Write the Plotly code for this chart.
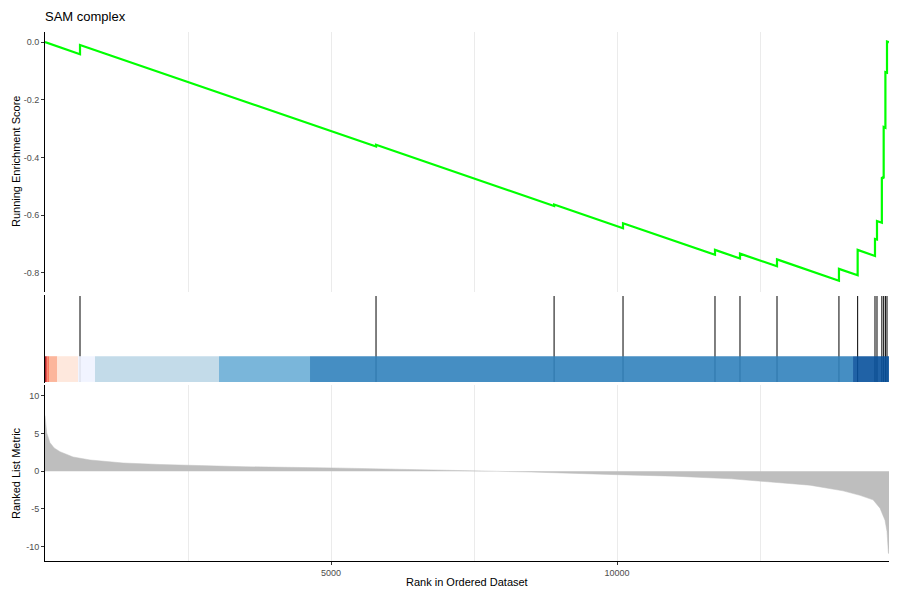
import plotly.graph_objects as go

# ---------------- data ----------------
N_GENES = 14755
title_text = "SAM complex"

hit_ranks = [612, 5787, 8900, 10105, 11713, 12150, 12797, 13880, 14207,
             14510, 14545, 14630, 14662, 14692, 14720]
es_before = [-0.042, -0.362, -0.568, -0.645, -0.737, -0.750, -0.777, -0.827,
             -0.808, -0.741, -0.684, -0.626, -0.472, -0.297, -0.106]
es_after = [-0.010, -0.356, -0.563, -0.628, -0.720, -0.733, -0.753, -0.786,
            -0.720, -0.682, -0.620, -0.468, -0.294, -0.104, 0.002]

metric_ranks = [0, 10, 30, 87, 160, 262, 490, 787, 1364, 2010, 2500, 3500,
                5000, 6500, 7500, 8500, 10000, 11000, 12000, 12500, 13374,
                13951, 14248, 14476, 14598, 14685, 14720, 14745, 14755]
metric_values = [7.4, 6.2, 5.1, 3.8, 3.1, 2.6, 1.9, 1.5, 1.1, 0.9, 0.8, 0.6,
                 0.45, 0.2, 0.05, -0.1, -0.45, -0.65, -1.0, -1.3, -1.85,
                 -2.6, -3.2, -3.8, -4.9, -6.5, -8.0, -10.9, -10.9]

bar_edges = [0, 20, 40, 70, 210, 577, 874, 3042, 4633, 14126, 14755]
bar_colors = ["#A50F15", "#DE2D26", "#FB6A4A", "#FCAE91", "#FEE5D9",
              "#EFF3FF", "#BDD7E7", "#6BAED6", "#3182BD", "#08519C"]

es_ticks = [0.0, -0.2, -0.4, -0.6, -0.8]
es_ticktext = ["0.0", "-0.2", "-0.4", "-0.6", "-0.8"]
metric_ticks = [10, 5, 0, -5, -10]
metric_ticktext = ["10", "5", "0", "-5", "-10"]
x_ticks = [5000, 10000]
x_ticktext = ["5000", "10000"]
x_minor = [2500, 7500, 12500]

# ---------------- build traces ----------------
es_x = [0]
es_y = [0.0]
for r, b, a in zip(hit_ranks, es_before, es_after):
    es_x += [r, r]
    es_y += [b, a]
es_x.append(N_GENES)
es_y.append(0.0)

hit_x, hit_y = [], []
for r in hit_ranks:
    hit_x += [r, r, None]
    hit_y += [0, 1, None]

FONT = "Liberation Sans, Arial, Helvetica, sans-serif"
GRID = "#EBEBEB"

fig = go.Figure()
fig.add_trace(go.Scatter(x=es_x, y=es_y, mode="lines",
                         line=dict(color="#00FF00", width=2.2),
                         xaxis="x", yaxis="y", hoverinfo="skip"))
fig.add_trace(go.Scatter(x=hit_x, y=hit_y, mode="lines",
                         line=dict(color="black", width=1),
                         xaxis="x2", yaxis="y2", hoverinfo="skip"))
fig.add_trace(go.Scatter(x=metric_ranks, y=metric_values, mode="lines",
                         fill="tozeroy", fillcolor="#BEBEBE",
                         line=dict(color="#BEBEBE", width=0.5),
                         xaxis="x3", yaxis="y3", hoverinfo="skip"))

shapes = []
for i, c in enumerate(bar_colors):
    shapes.append(dict(type="rect", xref="x2", yref="y2",
                       x0=bar_edges[i], x1=bar_edges[i + 1], y0=0, y1=0.3,
                       fillcolor=c, opacity=0.9, line=dict(width=0),
                       layer="above"))

H = 531.0
def py(p):  # pixel row -> paper fraction
    return (561 - p) / H

xr = [0, N_GENES]
tickfont = dict(family=FONT, size=9, color="#4D4D4D")

fig.update_layout(
    width=900, height=600,
    margin=dict(l=45, r=11, t=30, b=39),
    paper_bgcolor="white", plot_bgcolor="white",
    showlegend=False,
    font=dict(family=FONT, color="black"),
    shapes=shapes,
    xaxis=dict(domain=[0, 1], anchor="y", range=xr, showline=False,
               showticklabels=False, ticks="", tickvals=x_ticks,
               showgrid=True, gridcolor=GRID, gridwidth=1, zeroline=False,
               minor=dict(tickvals=x_minor, showgrid=True, gridcolor=GRID,
                          gridwidth=1, ticks="")),
    yaxis=dict(domain=[py(292), py(32)], anchor="x", range=[-0.866, 0.035],
               showline=True, linecolor="black", linewidth=1,
               ticks="outside", ticklen=3, tickcolor="#333333",
               tickvals=es_ticks, ticktext=es_ticktext, tickfont=tickfont,
               showgrid=False, zeroline=False),
    xaxis2=dict(domain=[0, 1], anchor="y2", range=xr, showline=False,
                showticklabels=False, ticks="", showgrid=False,
                zeroline=False),
    yaxis2=dict(domain=[py(383), py(295)], anchor="x2",
                range=[-0.012, 1.012], showline=True, linecolor="black",
                linewidth=1, ticks="", showticklabels=False,
                showgrid=False, zeroline=False),
    xaxis3=dict(domain=[0, 1], anchor="y3", range=xr, showline=True,
                linecolor="black", linewidth=1, ticks="outside", ticklen=3,
                tickcolor="#333333", tickvals=x_ticks, ticktext=x_ticktext,
                tickfont=tickfont, showgrid=True, gridcolor=GRID,
                gridwidth=1, zeroline=False,
                minor=dict(tickvals=x_minor, showgrid=True, gridcolor=GRID,
                           gridwidth=1, ticks="")),
    yaxis3=dict(domain=[0, py(385)], anchor="x3", range=[-11.92, 11.46],
                showline=True, linecolor="black", linewidth=1,
                ticks="outside", ticklen=3, tickcolor="#333333",
                tickvals=metric_ticks, ticktext=metric_ticktext,
                tickfont=tickfont, showgrid=False, zeroline=False),
    annotations=[
        dict(text=title_text, xref="paper", yref="paper", x=-0.002, y=py(17),
             xanchor="left", yanchor="middle", showarrow=False,
             font=dict(family=FONT, size=13, color="black")),
        dict(text="Running Enrichment Score", xref="paper", yref="paper",
             x=(16 - 45) / 844.0, y=py(162), textangle=-90,
             xanchor="center", yanchor="middle", showarrow=False,
             font=dict(family=FONT, size=11, color="black")),
        dict(text="Ranked List Metric", xref="paper", yref="paper",
             x=(16 - 45) / 844.0, y=py(473), textangle=-90,
             xanchor="center", yanchor="middle", showarrow=False,
             font=dict(family=FONT, size=11, color="black")),
        dict(text="Rank in Ordered Dataset", xref="paper", yref="paper",
             x=0.5, y=py(582), xanchor="center", yanchor="middle",
             showarrow=False,
             font=dict(family=FONT, size=11, color="black")),
    ],
)

fig.write_html("out.html",
               config={"displayModeBar": False},
               post_script="document.body.style.margin='0';"
                           "document.body.style.overflow='hidden';")
